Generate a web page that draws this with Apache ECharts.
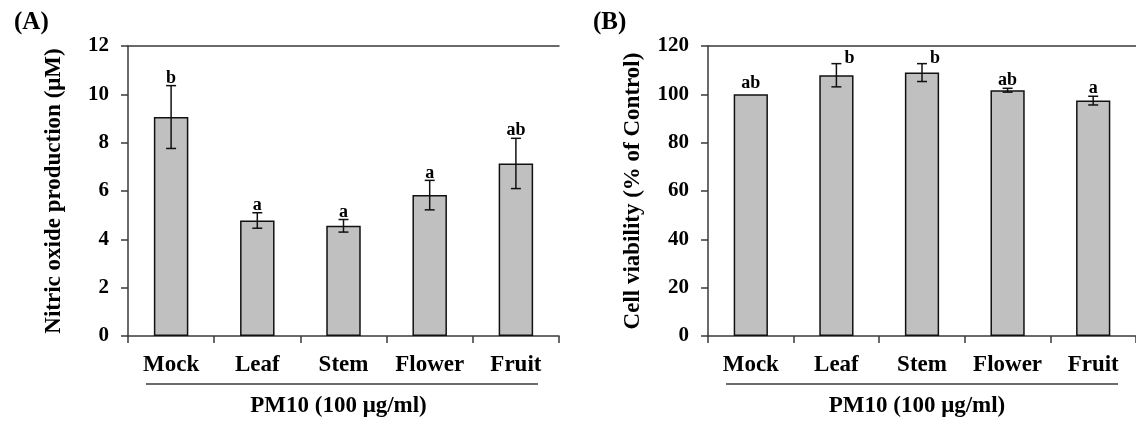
<!DOCTYPE html>
<html>
<head>
<meta charset="utf-8">
<script src="https://cdn.jsdelivr.net/npm/echarts@6/dist/echarts.min.js"></script>
<style>
  html, body { margin: 0; padding: 0; background: #fff; }
  #chart { width: 1136px; height: 423px; }
</style>
</head>
<body>
<div id="chart"></div>
<script>
// data
const categories = ['Mock', 'Leaf', 'Stem', 'Flower', 'Fruit'];

const noValues = [9.06, 4.78, 4.56, 5.83, 7.14];
const noErrors = [1.30, 0.32, 0.26, 0.61, 1.04];
const noLetters = ['b', 'a', 'a', 'a', 'ab'];

const viabilityValues = [100.0, 107.9, 109.0, 101.7, 97.4];
const viabilityErrors = [0, 4.8, 3.7, 0.8, 1.8];
const viabilityLetters = ['ab', 'b', 'b', 'ab', 'a'];

const noTicks = { min: 0, max: 12, interval: 2 };
const viabilityTicks = { min: 0, max: 120, interval: 20 };

const xTitle = 'PM10 (100 μg/ml)';
const yTitleA = 'Nitric oxide production (μM)';
const yTitleB = 'Cell viability (% of Control)';

const FONT = '"Liberation Serif", "Times New Roman", serif';
const AXIS = '#3a3a3a';

// grid layout
const gridTop = 46, gridH = 290;
const gridA = { left: 128, top: gridTop, width: 431, height: gridH };
const gridB = { left: 708, top: gridTop, width: 432, height: gridH };

function xAxes(gridIndex) {
    return [{
        type: 'category',
        gridIndex: gridIndex,
        data: categories,
        boundaryGap: true,
        axisLine: { lineStyle: { color: AXIS, width: 1.5 } },
        axisTick: { show: true, length: 7, alignWithLabel: false, lineStyle: { color: AXIS, width: 1.5 } },
        axisLabel: { interval: 0, color: '#000', fontFamily: FONT, fontWeight: 'bold', fontSize: 23, margin: 18 },
        name: xTitle,
        nameLocation: 'middle',
        nameGap: 59,
        nameTextStyle: { color: '#000', fontFamily: FONT, fontWeight: 'bold', fontSize: 23, padding: [0, 10, 0, 0] }
    }, {
        // top border line of the plot area
        type: 'category',
        gridIndex: gridIndex,
        position: 'top',
        data: categories,
        axisLine: { lineStyle: { color: AXIS, width: 1.5 } },
        axisTick: { show: false },
        axisLabel: { show: false }
    }];
}

function yAxis(gridIndex, ticks, title, gap) {
    return {
        type: 'value',
        gridIndex: gridIndex,
        min: ticks.min,
        max: ticks.max,
        interval: ticks.interval,
        axisLine: { show: true, lineStyle: { color: AXIS, width: 1.5 } },
        axisTick: { show: true, length: 7, lineStyle: { color: AXIS, width: 1.5 } },
        splitLine: { show: false },
        axisLabel: { color: '#000', fontFamily: FONT, fontWeight: 'bold', fontSize: 21, margin: 19 },
        name: title,
        nameLocation: 'middle',
        nameGap: gap,
        nameTextStyle: { color: '#000', fontFamily: FONT, fontWeight: 'bold', fontSize: 23 }
    };
}

function barSeries(axisIdx, values) {
    return {
        type: 'bar',
        xAxisIndex: axisIdx,
        yAxisIndex: axisIdx / 2,
        data: values,
        barWidth: '40%',
        itemStyle: { color: '#c0c0c0', borderColor: '#111', borderWidth: 1.5 },
        silent: true
    };
}

function errorSeries(axisIdx, values, errors, letters) {
    const data = values.map((v, i) => [i, v, errors[i], letters[i]]);
    return {
        type: 'custom',
        xAxisIndex: axisIdx,
        yAxisIndex: axisIdx / 2,
        data: data,
        z: 10,
        silent: true,
        renderItem: function (params, api) {
            const i = api.value(0);
            const v = api.value(1);
            const e = api.value(2);
            const letter = data[params.dataIndex][3];
            const top = api.coord([i, v + e]);
            const bot = api.coord([i, v - e]);
            const cap = 5;
            const children = [];
            if (e > 0) {
                const st = { stroke: '#111', lineWidth: 1.5 };
                children.push(
                    { type: 'line', shape: { x1: top[0], y1: top[1], x2: bot[0], y2: bot[1] }, style: st },
                    { type: 'line', shape: { x1: top[0] - cap, y1: top[1], x2: top[0] + cap, y2: top[1] }, style: st },
                    { type: 'line', shape: { x1: bot[0] - cap, y1: bot[1], x2: bot[0] + cap, y2: bot[1] }, style: st }
                );
            }
            // letters sit above the error bar, or beside it when close to the top border
            const nearTop = top[1] - params.coordSys.y < 25;
            children.push({
                type: 'text',
                style: {
                    text: letter,
                    x: nearTop ? top[0] + 13 : top[0],
                    y: nearTop ? top[1] + 4 : (e > 0 ? top[1] + 1.5 : top[1] - 2),
                    align: 'center',
                    verticalAlign: 'bottom',
                    fill: '#000',
                    font: 'bold 18px ' + FONT
                }
            });
            return { type: 'group', children: children };
        }
    };
}

const underline = (g) => ({
    type: 'line',
    shape: { x1: g.left + 18, y1: 384, x2: g.left + 410, y2: 384 },
    style: { stroke: AXIS, lineWidth: 1.5 }
});

const option = {
    animation: false,
    backgroundColor: '#fff',
    title: [
        { text: '(A)', left: 9, top: 5, textStyle: { fontFamily: FONT, fontWeight: 'bold', fontSize: 25, color: '#000' } },
        { text: '(B)', left: 588, top: 5, textStyle: { fontFamily: FONT, fontWeight: 'bold', fontSize: 25, color: '#000' } }
    ],
    grid: [gridA, gridB],
    xAxis: [...xAxes(0), ...xAxes(1)],
    yAxis: [yAxis(0, noTicks, yTitleA, 62), yAxis(1, viabilityTicks, yTitleB, 63)],
    graphic: [underline(gridA), underline(gridB)],
    series: [
        barSeries(0, noValues),
        errorSeries(0, noValues, noErrors, noLetters),
        barSeries(2, viabilityValues),
        errorSeries(2, viabilityValues, viabilityErrors, viabilityLetters)
    ]
};

const myChart = echarts.init(document.getElementById('chart'));
myChart.setOption(option);
</script>
</body>
</html>
